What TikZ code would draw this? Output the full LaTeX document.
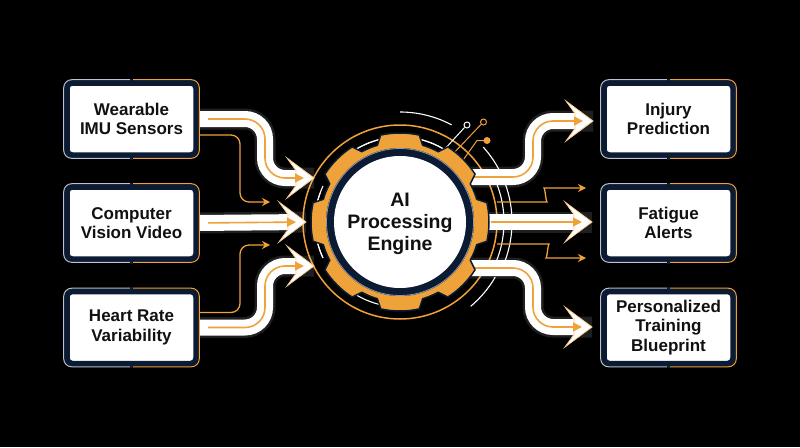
\documentclass[tikz,border=0pt]{standalone}
\usepackage{fontspec}
\setmainfont{Liberation Sans}
\usetikzlibrary{calc,arrows.meta}
\definecolor{orng}{HTML}{F0A23A}
\definecolor{navy}{HTML}{0C1B34}
\definecolor{ink}{HTML}{111111}
\definecolor{edgec}{HTML}{B9C3D2}
\pgfdeclarelayer{bg}
\pgfdeclarelayer{arrows}
\pgfsetlayers{bg,arrows,main}
\tikzset{
  box/.style={rectangle, rounded corners=5pt, fill=white, draw=navy, line width=5.5pt,
    minimum width=129pt, minimum height=72pt, align=center, inner sep=0pt, outer sep=0pt,
    font=\bfseries\fontsize{17}{19.5}\selectfont, text=ink},
  glow/.style={draw=white, line width=21pt, opacity=0.12, rounded corners=20pt},
  band/.style={draw=white, line width=16pt, rounded corners=20pt, shorten >=18pt},
  core/.style={draw=orng, line width=1.6pt, rounded corners=20pt, shorten <=12pt, shorten >=10pt,
    -{Triangle[length=9pt,width=9pt]}},
  thin/.style={draw=orng, line width=1.3pt, rounded corners=9pt, -{Stealth[length=8pt,width=8pt]}},
  arcw/.style={draw=white, line width=1.1pt},
}
\newcommand\myhead[1]{\fill[white, draw=orng!55!white, line width=0.8pt] (#1) -- ++(-27,-20) -- ++(9,12.5) -- ++(0,15) -- ++(-9,12.5) -- cycle;}
\newcommand\boxedge[1]{%
  \draw[edgec, line width=1pt, rounded corners=8pt] ($(#1.north)+(0,-3.3)$) -- ($(#1.north west)+(-3.3,-3.3)$) -- ($(#1.south west)+(-3.3,3.3)$) -- ($(#1.south)+(0,3.3)$);
  \draw[orng, line width=1pt, rounded corners=8pt] ($(#1.north)+(0,-3.3)$) -- ($(#1.north east)+(3.3,-3.3)$) -- ($(#1.south east)+(3.3,3.3)$) -- ($(#1.south)+(0,3.3)$);
  \fill[navy] ($(#1.north)+(-1.2,-4.5)$) rectangle ($(#1.north)+(1.2,-1.5)$);
  \fill[navy] ($(#1.south)+(-1.2,4.5)$) rectangle ($(#1.south)+(1.2,1.5)$);
}
\begin{document}
\begin{tikzpicture}[x=1pt,y=-1pt]
\begin{pgfonlayer}{bg}
\fill[black] (0,0) rectangle (800,447);
\end{pgfonlayer}
\useasboundingbox (0,0) rectangle (800,447);

% ---- decorative rings and arcs ----
\begin{pgfonlayer}{bg}
\begin{scope}[shift={(400,222)}]
  \draw[orng, line width=1.5pt] (0,0) circle[radius=97];
  \foreach \s/\e in {-140/-100, -205/-155, 100/140, 155/200, 215/255, 280/320, -80/-40}
    \draw[arcw] (\s:85) arc[start angle=\s, end angle=\e, radius=85];
  \draw[arcw] (-90:110) arc[start angle=-90, end angle=-62, radius=110];
  \draw[arcw] (-42:112) arc[start angle=-42, end angle=-25, radius=112];
  \draw[arcw] (-30:104) arc[start angle=-30, end angle=30, radius=104];
  \draw[arcw] (-20:112) arc[start angle=-20, end angle=20, radius=112];
  \draw[arcw] (30:110) arc[start angle=30, end angle=50, radius=110];
\end{scope}
% circuit traces
\draw[white, line width=1pt] (443,151) -- (464.5,127.5);
\draw[white, line width=1pt] (467,125) circle[radius=3];
\draw[orng, line width=1pt] (451,156) -- (481,124.5);
\draw[orng, line width=1pt] (483.5,122) circle[radius=3];
\draw[orng, line width=1pt] (461,163) -- (477,140.5) -- (484,140.5);
\fill[orng] (487,140.5) circle[radius=3.5];
\end{pgfonlayer}

% ---- gear ----
\begin{scope}[shift={(400,222)}]
  \fill[orng, draw=navy, line width=1.5pt] (-22.5:80)
    \foreach \a in {0,45,...,315}{
      arc[start angle=\a-22.5, end angle=\a-16.5, radius=80]
      -- ({\a-12.5}:89) arc[start angle=\a-12.5, end angle=\a+12.5, radius=89]
      -- ({\a+16.5}:80) arc[start angle=\a+16.5, end angle=\a+22.5, radius=80]
    } -- cycle;
  \fill[navy] (0,0) circle[radius=74];
  \draw[white!55!navy, line width=0.8pt] (0,0) circle[radius=73.5];
  \fill[white] (0,0) circle[radius=66];
\end{scope}
\node[align=center, text=ink, font=\bfseries\fontsize{19.5}{22}\selectfont] (ai) at (400,224) {AI\\Processing\\Engine};

% ---- boxes ----
\node[box] (b1) at (131.5,119) {Wearable\\IMU Sensors};
\node[box] (b2) at (131.5,223) {Computer\\Vision Video};
\node[box] (b3) at (131.5,327.5) {Heart Rate\\Variability};
\node[box] (r1) at (668.5,119) {Injury\\Prediction};
\node[box] (r2) at (668.5,223) {Fatigue\\Alerts};
\node[box] (r3) at (668.5,327.5) {Personalized\\Training\\Blueprint};
\foreach \n in {b1,b2,b3,r1,r2,r3} { \boxedge{\n} }

% ---- coordinates ----
\coordinate (t1) at (314,178);
\coordinate (t2) at (306,222);
\coordinate (t3) at (314,266);
\coordinate (s1) at (468,177);
\coordinate (s2) at (487,222);
\coordinate (s3) at (468,268);
\coordinate (u1) at (593,121);
\coordinate (u2) at (592,222);
\coordinate (u3) at (592,327);
\coordinate (la) at (270,202);
\coordinate (lb) at (270,245);
\coordinate (oa0) at (497,202);
\coordinate (oa) at (586,188);
\coordinate (ob0) at (497,244);
\coordinate (ob) at (586,258);

\begin{pgfonlayer}{arrows}
  % input bands
  \draw[glow] (b1.east) -| ($(t1)+(-49,0)$) -- (t1);
  \draw[band] (b1.east) -| ($(t1)+(-49,0)$) -- (t1);
  \draw[glow] (b2.east) -- (t2);
  \draw[band] (b2.east) -- (t2);
  \draw[glow] (b3.east) -| ($(t3)+(-49,0)$) -- (t3);
  \draw[band] (b3.east) -| ($(t3)+(-49,0)$) -- (t3);
  % output bands
  \draw[glow] (s1) -| ($(u1)+(-60,0)$) -- (u1);
  \draw[band] (s1) -| ($(u1)+(-60,0)$) -- (u1);
  \draw[glow] (s2) -- (u2);
  \draw[band] (s2) -- (u2);
  \draw[glow] (s3) -| ($(u3)+(-59,0)$) -- (u3);
  \draw[band] (s3) -| ($(u3)+(-59,0)$) -- (u3);
  % heads
  \myhead{t1} \myhead{t2} \myhead{t3}
  \myhead{u1} \myhead{u2} \myhead{u3}
  % cores
  \draw[core] (b1.east) -| ($(t1)+(-49,0)$) -- (t1);
  \draw[core] (b2.east) -- (t2);
  \draw[core] (b3.east) -| ($(t3)+(-49,0)$) -- (t3);
  \draw[core, shorten <=6pt] (s1) -| ($(u1)+(-60,0)$) -- (u1);
  \draw[core, shorten <=4pt] (s2) -- (u2);
  \draw[core, shorten <=6pt] (s3) -| ($(u3)+(-59,0)$) -- (u3);
  % thin connectors
  \draw[thin] ($(b1.east)+(0,16)$) -| ($(la)+(-30,0)$) -- (la);
  \draw[thin] ($(b3.east)+(0,-15)$) -| ($(lb)+(-30,0)$) -- (lb);
  \draw[thin] (oa0) -- (538,202) .. controls (546,202) and (545,188) .. (553,188) -- (oa);
  \draw[thin] (ob0) -- (540,244) .. controls (548,244) and (547,258) .. (555,258) -- (ob);
\end{pgfonlayer}
\end{tikzpicture}
\end{document}
